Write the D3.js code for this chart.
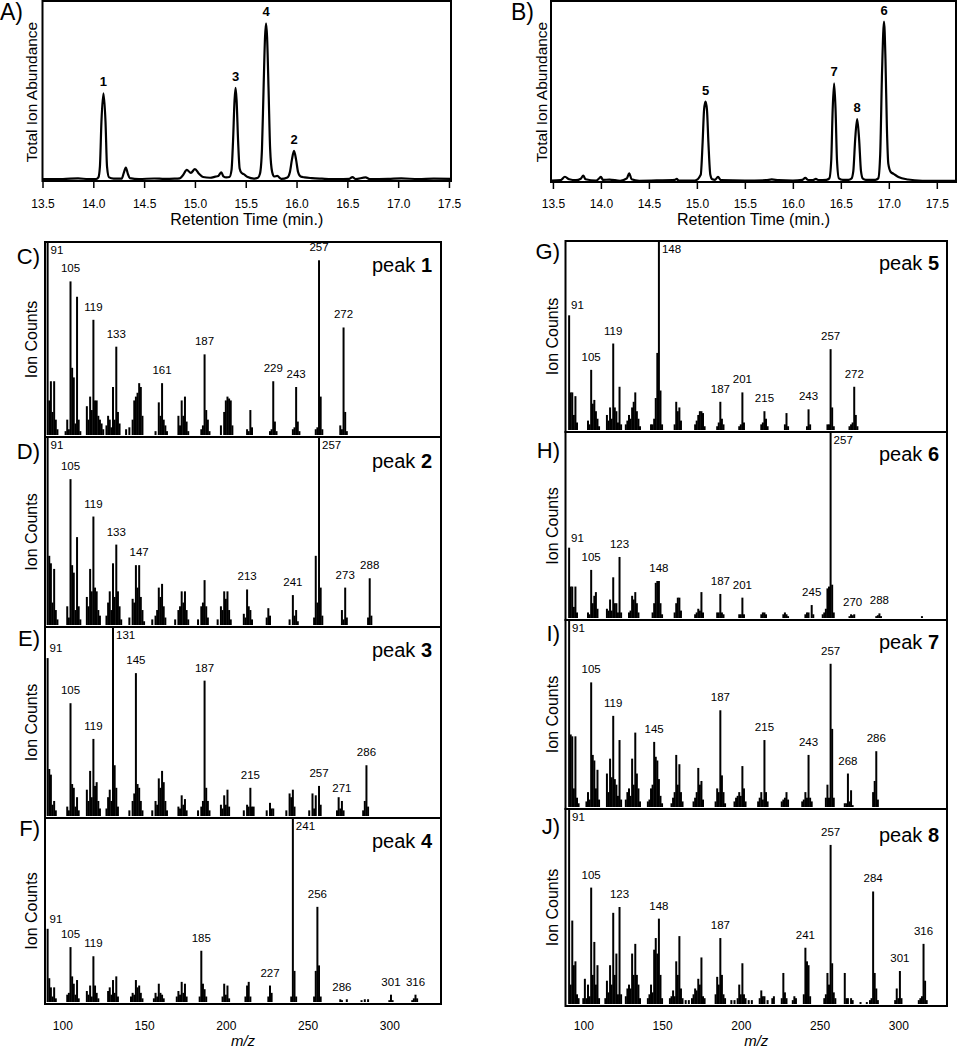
<!DOCTYPE html>
<html><head><meta charset="utf-8">
<script src="https://cdn.jsdelivr.net/npm/d3@7"></script>
<style>
body{margin:0;background:#fff}
svg{display:block}
text{font-family:"Liberation Sans",Arial,Helvetica,sans-serif;fill:#000}
</style>
</head><body>
<svg id="chart" width="960" height="1050"></svg>
<script>
// ---------------- DATA ----------------
const rtTicks = [13.5, 14.0, 14.5, 15.0, 15.5, 16.0, 16.5, 17.0, 17.5];
const mzTicks = [100, 150, 200, 250, 300];

// Total ion chromatogram A (retention time, relative abundance)
const traceA = [[13.50,1.1],[13.70,1.1],[13.85,1.5],[13.95,1.0],[14.03,1.1],[14.05,2.0],[14.065,8],[14.08,33],[14.10,48.7],[14.12,33],[14.135,8],[14.155,2.0],[14.20,1.3],[14.28,1.3],[14.30,4.5],[14.32,7.4],[14.34,4.0],[14.36,1.6],[14.45,1.1],[14.60,1.4],[14.70,1.2],[14.80,1.3],[14.85,1.5],[14.88,3.0],[14.92,6.2],[14.96,4.5],[15.00,6.6],[15.04,4.0],[15.08,2.2],[15.15,1.8],[15.20,2.4],[15.23,2.8],[15.26,4.8],[15.28,2.6],[15.31,2.0],[15.34,2.2],[15.36,6],[15.375,22],[15.39,45],[15.40,51.8],[15.41,45],[15.425,22],[15.44,7],[15.46,4.4],[15.48,3.8],[15.52,2.2],[15.58,1.3],[15.62,1.8],[15.64,4],[15.66,18],[15.675,50],[15.69,80],[15.70,87.6],[15.71,80],[15.725,50],[15.74,18],[15.76,5],[15.78,2.5],[15.81,2.8],[15.85,1.2],[15.91,2.0],[15.935,5],[15.955,12],[15.975,16.8],[15.995,12],[16.015,5],[16.04,2.5],[16.08,2.0],[16.15,1.6],[16.25,1.3],[16.40,1.0],[16.52,1.2],[16.55,2.2],[16.58,1.1],[16.68,2.0],[16.72,1.1],[16.90,1.2],[17.03,1.5],[17.20,1.0],[17.35,1.3],[17.52,1.2]];
const peaksA = [[14.10,'1'],[15.40,'3'],[15.70,'4'],[15.975,'2']];

// Total ion chromatogram B
const traceB = [[13.48,0.8],[13.58,1.0],[13.625,2.9],[13.67,1.5],[13.74,1.0],[13.79,1.8],[13.816,3.5],[13.84,1.5],[13.95,0.8],[13.985,2.2],[14.00,2.9],[14.02,1.2],[14.09,1.3],[14.20,0.7],[14.27,2.0],[14.295,4.8],[14.32,1.5],[14.40,0.7],[14.60,0.9],[14.77,1.2],[14.79,1.7],[14.81,0.8],[14.98,0.8],[15.04,4],[15.06,22],[15.075,40],[15.09,44.4],[15.105,40],[15.12,22],[15.14,4],[15.16,1.5],[15.19,1.2],[15.22,2.9],[15.25,1.0],[15.50,0.8],[15.72,1.0],[15.78,1.4],[15.85,1.0],[16.00,0.8],[16.10,1.2],[16.13,2.3],[16.16,1.1],[16.21,1.1],[16.24,1.7],[16.27,1.0],[16.35,1.2],[16.38,2.0],[16.40,12],[16.415,40],[16.43,54.5],[16.445,40],[16.46,12],[16.48,2.0],[16.52,1.2],[16.58,1.2],[16.61,1.8],[16.63,6],[16.65,24],[16.67,34.8],[16.69,24],[16.71,6],[16.73,1.8],[16.76,1.2],[16.86,1.2],[16.89,2.0],[16.91,15],[16.93,62],[16.95,88.6],[16.965,68],[16.98,30],[16.995,10],[17.02,5.5],[17.05,4.5],[17.10,2.8],[17.20,1.4],[17.35,0.7],[17.50,0.6],[17.70,0.6]];
const peaksB = [[15.09,'5'],[16.43,'7'],[16.67,'8'],[16.95,'6']];

// Mass spectra [m/z, relative ion counts]
const spec1 = [[91,100],[92,18],[93,28],[94,12],[95,28],[96,8],[97,3],[102,2],[103,8],[104,3],[105,80],[106,35],[107,30],[108,6],[109,72],[110,8],[111,2],[115,15],[116,8],[117,20],[118,13],[119,60],[120,18],[121,18],[122,10],[123,8],[124,6],[125,3],[127,5],[128,10],[129,8],[130,4],[131,25],[132,8],[133,46],[134,12],[135,6],[139,3],[141,4],[143,8],[144,18],[145,20],[146,22],[147,27],[148,25],[149,10],[157,2],[159,17],[160,10],[161,27],[162,8],[163,5],[164,2],[171,10],[172,5],[173,18],[174,10],[175,20],[176,7],[177,2],[185,3],[186,5],[187,42],[188,13],[189,8],[190,2],[197,5],[199,12],[200,18],[201,20],[202,19],[203,18],[204,5],[213,3],[214,2],[215,13],[216,4],[227,2],[228,3],[229,28],[230,7],[231,2],[241,3],[242,4],[243,25],[244,7],[245,2],[255,3],[256,4],[257,91],[258,20],[259,3],[270,5],[271,3],[272,56],[273,12],[274,2]];
const spec2 = [[91,100],[92,37],[93,33],[94,12],[95,30],[96,8],[97,3],[103,10],[104,4],[105,78],[106,32],[107,28],[108,8],[109,47],[110,10],[111,3],[115,15],[116,10],[117,30],[118,18],[119,58],[120,20],[121,18],[122,8],[123,5],[127,5],[128,12],[129,18],[130,8],[131,33],[132,15],[133,43],[134,18],[135,10],[136,3],[141,4],[143,14],[144,12],[145,32],[146,20],[147,32],[148,15],[149,8],[150,2],[155,3],[157,5],[158,8],[159,20],[160,15],[161,22],[162,10],[163,4],[169,3],[171,8],[172,10],[173,18],[174,12],[175,18],[176,8],[177,3],[183,3],[185,10],[186,12],[187,24],[188,10],[189,4],[195,3],[197,10],[198,8],[199,18],[200,14],[201,18],[202,8],[203,3],[211,6],[212,4],[213,19],[214,10],[215,8],[216,3],[225,4],[226,9],[227,5],[239,3],[241,16],[242,5],[243,8],[244,2],[254,4],[255,37],[256,12],[257,100],[258,20],[259,5],[271,8],[272,3],[273,20],[274,4],[287,4],[288,25],[289,5]];
const spec3 = [[91,84],[92,25],[93,22],[94,6],[95,8],[96,3],[103,5],[104,3],[105,60],[106,17],[107,15],[108,5],[109,10],[110,3],[115,14],[116,8],[117,24],[118,10],[119,41],[120,16],[121,18],[122,8],[123,4],[127,4],[128,10],[129,14],[130,8],[131,100],[132,27],[133,15],[134,5],[141,3],[143,8],[144,12],[145,76],[146,17],[147,15],[148,8],[149,3],[155,3],[157,8],[158,6],[159,20],[160,15],[161,24],[162,18],[163,8],[164,3],[171,5],[172,4],[173,11],[174,6],[175,9],[176,3],[183,3],[185,5],[186,8],[187,72],[188,15],[189,8],[190,3],[197,6],[198,4],[199,11],[200,6],[201,14],[202,5],[211,3],[213,6],[214,5],[215,15],[216,5],[217,5],[225,3],[227,7],[228,4],[229,4],[237,3],[239,12],[240,10],[241,14],[242,5],[251,3],[253,12],[254,4],[255,11],[257,16],[258,6],[268,3],[269,10],[270,4],[271,8],[272,3],[284,3],[285,8],[286,27],[287,5]];
const spec4 = [[91,40],[92,13],[93,8],[94,3],[95,8],[96,2],[103,4],[104,5],[105,30],[106,14],[107,10],[108,4],[109,12],[110,2],[115,6],[116,4],[117,9],[118,3],[119,25],[120,9],[121,5],[122,2],[128,6],[129,8],[130,4],[131,12],[132,5],[133,14],[134,3],[142,3],[143,5],[144,4],[145,12],[146,8],[147,9],[148,5],[149,2],[156,2],[157,5],[158,3],[159,10],[160,5],[161,4],[162,2],[170,3],[171,6],[172,4],[173,11],[174,5],[175,10],[176,3],[184,3],[185,28],[186,10],[187,7],[188,3],[198,3],[199,10],[200,4],[201,9],[202,2],[212,3],[213,9],[214,11],[215,3],[226,3],[227,9],[228,5],[240,3],[241,100],[242,17],[243,3],[254,3],[255,17],[256,52],[257,20],[258,3],[270,1.5],[271,1],[274,1.5],[283,1],[285,1.5],[287,1.5],[300,1],[301,4],[302,1],[314,1],[315,2],[316,4],[317,2]];
const spec5 = [[91,61],[92,20],[93,20],[94,8],[95,18],[96,4],[103,5],[104,3],[105,32],[106,14],[107,16],[108,10],[109,6],[110,2],[115,8],[116,5],[117,12],[118,6],[119,46],[120,12],[121,10],[122,4],[123,23],[124,3],[127,3],[128,5],[129,8],[130,6],[131,12],[132,15],[133,20],[134,10],[135,6],[136,2],[143,3],[144,3],[145,6],[146,17],[147,41],[148,100],[149,21],[150,3],[158,3],[159,15],[160,10],[161,12],[162,5],[171,3],[172,5],[173,8],[174,10],[175,10],[176,9],[177,2],[185,2],[186,4],[187,15],[188,6],[189,3],[199,2],[200,3],[201,20],[202,4],[213,3],[214,4],[215,10],[216,6],[217,2],[228,3],[229,9],[230,2],[242,2],[243,11],[244,3],[255,3],[256,3],[257,43],[258,12],[259,2],[269,2],[270,3],[271,4],[272,23],[273,8],[274,2]];
const spec6 = [[91,38],[92,17],[93,17],[94,6],[95,17],[96,3],[103,3],[104,2],[105,26],[106,8],[107,12],[108,14],[109,5],[115,5],[116,4],[117,10],[118,4],[119,22],[120,8],[121,8],[122,3],[123,33],[124,3],[129,3],[130,4],[131,12],[132,10],[133,14],[134,8],[135,3],[144,3],[145,8],[146,19],[147,20],[148,20],[149,8],[150,2],[158,3],[159,8],[160,11],[161,11],[162,4],[171,2],[172,3],[173,5],[174,4],[175,14],[176,3],[185,3],[186,3],[187,13],[188,3],[189,2],[199,2],[200,2],[201,11],[202,2],[213,2],[214,3],[215,3],[216,2],[227,2],[228,3],[229,2],[230,1],[241,2],[242,3],[243,3],[245,7],[246,2],[252,2],[253,3],[254,5],[255,16],[256,17],[257,100],[258,18],[259,3],[269,1],[270,2],[271,1.5],[272,2],[286,1],[287,1.5],[288,2.5],[289,1],[315,1]];
const spec7 = [[91,100],[92,39],[93,38],[94,10],[95,38],[96,5],[97,2],[102,3],[103,8],[104,4],[105,67],[106,28],[107,25],[108,10],[109,20],[110,4],[115,18],[116,8],[117,26],[118,16],[119,49],[120,15],[121,12],[122,6],[123,36],[124,4],[127,4],[128,8],[129,10],[130,6],[131,26],[132,12],[133,40],[134,18],[135,10],[136,3],[141,3],[142,4],[143,10],[144,12],[145,35],[146,27],[147,25],[148,15],[149,6],[150,2],[156,2],[157,5],[158,8],[159,28],[160,12],[161,23],[162,8],[163,3],[170,3],[171,5],[172,8],[173,21],[174,12],[175,14],[176,4],[184,3],[185,10],[186,8],[187,52],[188,17],[189,8],[190,2],[196,3],[197,5],[198,6],[199,8],[200,6],[201,22],[202,10],[203,3],[211,3],[212,5],[213,8],[214,4],[215,36],[216,8],[217,3],[226,3],[227,4],[228,5],[229,8],[230,4],[239,3],[240,4],[241,8],[242,5],[243,28],[244,5],[245,3],[254,5],[255,12],[256,5],[257,77],[258,42],[259,5],[266,2],[267,2],[268,18],[269,3],[270,9],[271,1],[284,8],[285,14],[286,30],[287,4]];
const spec8 = [[91,100],[92,10],[93,43],[94,20],[95,22],[96,5],[97,3],[100,3],[101,13],[102,3],[103,10],[104,4],[105,60],[106,15],[107,32],[108,10],[109,20],[110,3],[114,3],[115,12],[116,6],[117,20],[118,10],[119,47],[120,15],[121,26],[122,5],[123,50],[124,5],[127,4],[128,8],[129,10],[130,8],[131,26],[132,15],[133,31],[134,15],[135,10],[136,3],[141,3],[142,5],[143,10],[144,6],[145,28],[146,34],[147,26],[148,44],[149,15],[150,3],[155,3],[156,4],[157,7],[158,4],[159,22],[160,15],[161,35],[162,8],[163,3],[165,2],[167,2],[169,3],[170,5],[171,8],[172,7],[173,13],[174,10],[175,24],[176,4],[177,3],[184,5],[185,14],[186,10],[187,34],[188,15],[189,5],[190,3],[194,2],[196,2],[198,3],[199,10],[200,5],[201,21],[202,5],[203,3],[205,2],[207,2],[212,3],[213,7],[214,4],[215,4],[217,2],[220,3],[221,4],[226,3],[227,16],[228,6],[229,3],[233,2],[234,4],[235,3],[240,5],[241,29],[242,22],[243,20],[244,4],[253,3],[254,5],[255,16],[256,10],[257,82],[258,21],[259,6],[260,3],[266,16],[267,3],[268,3],[270,3],[271,2],[276,1],[280,1],[282,2],[283,3],[284,58],[285,16],[286,8],[287,2],[298,2],[299,8],[300,3],[301,17],[302,3],[313,2],[314,3],[315,4],[316,31],[317,12],[318,2]];

// Labelled ions (m/z, or [anchor m/z, printed text])
const labels1 = [91,105,119,133,161,187,229,243,257,272];
const labels2 = [91,105,119,133,147,213,241,257,273,288];
const labels3 = [91,105,119,131,145,187,215,257,271,286];
const labels4 = [91,105,119,185,227,241,256,[271,'286'],301,316];
const labels5 = [91,105,119,148,187,201,215,243,257,272];
const labels6 = [91,105,123,148,187,201,245,257,[271,'270'],288];
const labels7 = [91,105,119,145,187,215,243,257,268,286];
const labels8 = [91,105,123,148,187,241,257,284,301,316];

// ---------------- LAYOUT ----------------
const svg = d3.select('#chart');
const FONT = '"Liberation Sans",Arial,Helvetica,sans-serif';

function chromatogram(cfg, trace, peaks) {
  const x = d3.scaleLinear().domain(cfg.domain).range([cfg.left, cfg.right]);
  const y = d3.scaleLinear().domain([0, 100]).range([cfg.bottom, cfg.top]);
  const g = svg.append('g');
  g.append('path').datum(trace)
    .attr('d', d3.line().x(d => x(d[0])).y(d => y(d[1])).curve(d3.curveMonotoneX))
    .attr('fill', 'none').attr('stroke', '#000').attr('stroke-width', 2.2).attr('stroke-linejoin', 'round');
  peaks.forEach(([t, lab]) => {
    const v = d3.max(trace.filter(d => Math.abs(d[0] - t) < 0.03), d => d[1]);
    g.append('text').attr('x', x(t)).attr('y', y(v) - 7).attr('text-anchor', 'middle')
      .attr('font-weight', 'bold').attr('font-size', 13).text(lab);
  });
  g.append('rect').attr('x', cfg.left).attr('y', cfg.top).attr('width', cfg.right - cfg.left)
    .attr('height', cfg.bottom - cfg.top).attr('fill', 'none').attr('stroke', '#000').attr('stroke-width', 2);
  const ax = g.append('g').attr('transform', `translate(0,${cfg.bottom})`)
    .call(d3.axisBottom(x).tickValues(rtTicks).tickFormat(d3.format('.1f')).tickSize(7));
  ax.attr('font-family', FONT);
  ax.select('.domain').remove();
  ax.selectAll('line').attr('stroke-width', 1.5);
  ax.selectAll('text').attr('dy', null).attr('y', 208 - cfg.bottom).attr('font-size', 12).attr('fill', '#000');
  g.append('text').attr('x', (cfg.left + cfg.right) / 2).attr('y', 225).attr('text-anchor', 'middle')
    .attr('font-size', 16).text('Retention Time (min.)');
  g.append('text').attr('transform', `translate(${cfg.titleX},92) rotate(-90)`).attr('text-anchor', 'middle')
    .attr('font-size', 15.5).text('Total Ion Abundance');
  g.append('text').attr('x', cfg.letterX).attr('y', 20).attr('font-size', 23).text(cfg.letter);
}

chromatogram({domain: [13.5, 17.52], left: 42.5, right: 451, top: 1, bottom: 181, titleX: 36.5, letterX: 0, letter: 'A)'}, traceA, peaksA);
chromatogram({domain: [13.48, 17.70], left: 551, right: 956, top: 1, bottom: 182, titleX: 546.5, letterX: 511, letter: 'B)'}, traceB, peaksB);

const columns = [
  {left: 45, right: 441, domain: [89.4, 331.6], letterX: 40, peakX: 432, ionX: 36.7},
  {left: 565.5, right: 947, domain: [88.7, 330.9], letterX: 560, peakX: 939, ionX: 558}
];
const panels = [
  {data: spec1, labels: labels1, peak: '1', letter: 'C)', col: 0, top: 242, bottom: 437, letterY: 264, peakY: 272},
  {data: spec2, labels: labels2, peak: '2', letter: 'D)', col: 0, top: 437, bottom: 627, letterY: 459, peakY: 468},
  {data: spec3, labels: labels3, peak: '3', letter: 'E)', col: 0, top: 627, bottom: 818, letterY: 646, peakY: 657},
  {data: spec4, labels: labels4, peak: '4', letter: 'F)', col: 0, top: 818, bottom: 1004, letterY: 836, peakY: 848, axis: true},
  {data: spec5, labels: labels5, peak: '5', letter: 'G)', col: 1, top: 241, bottom: 432, letterY: 259, peakY: 270},
  {data: spec6, labels: labels6, peak: '6', letter: 'H)', col: 1, top: 432, bottom: 620, letterY: 458, peakY: 461},
  {data: spec7, labels: labels7, peak: '7', letter: 'I)', col: 1, top: 620, bottom: 809, letterY: 641, peakY: 649},
  {data: spec8, labels: labels8, peak: '8', letter: 'J)', col: 1, top: 809, bottom: 1006, letterY: 834, peakY: 842, axis: true}
];

panels.forEach(p => {
  const col = columns[p.col];
  const x = d3.scaleLinear().domain(col.domain).range([col.left, col.right]);
  const y = d3.scaleLinear().domain([0, 100]).range([p.bottom - 2, p.top + 1]);
  const g = svg.append('g');
  g.selectAll('line.bar').data(p.data).join('line').attr('class', 'bar')
    .attr('x1', d => x(d[0])).attr('x2', d => x(d[0]))
    .attr('y1', y(0)).attr('y2', d => y(d[1]))
    .attr('stroke', '#000').attr('stroke-width', 2);
  p.labels.forEach(l => {
    const [mz, txt] = Array.isArray(l) ? l : [l, String(l)];
    const v = d3.max(p.data.filter(d => Math.abs(d[0] - mz) < 0.6), d => d[1]) || 0;
    const bx = x(mz);
    const t = g.append('text').attr('font-size', 11.5).text(txt);
    if (v >= 97) t.attr('x', bx + 3).attr('y', p.top + 12).attr('text-anchor', 'start');
    else if (bx - 9 < col.left + 2) t.attr('x', bx + 2).attr('y', y(v) - 6).attr('text-anchor', 'start');
    else t.attr('x', bx).attr('y', y(v) - 9).attr('text-anchor', 'middle');
  });
  g.append('rect').attr('x', col.left).attr('y', p.top).attr('width', col.right - col.left)
    .attr('height', p.bottom - p.top).attr('fill', 'none').attr('stroke', '#000').attr('stroke-width', 2);
  g.append('text').attr('x', col.letterX).attr('y', p.letterY).attr('text-anchor', 'end')
    .attr('font-size', 22).text(p.letter);
  const pk = g.append('text').attr('x', col.peakX).attr('y', p.peakY).attr('text-anchor', 'end').attr('font-size', 20);
  pk.append('tspan').text('peak ');
  pk.append('tspan').attr('font-weight', 'bold').text(p.peak);
  g.append('text').attr('transform', `translate(${col.ionX},${(p.top + p.bottom) / 2}) rotate(-90)`)
    .attr('text-anchor', 'middle').attr('font-size', 16).text('Ion Counts');
  if (p.axis) {
    const ax = g.append('g').attr('transform', `translate(0,${p.bottom})`)
      .call(d3.axisBottom(x).tickValues(mzTicks).tickSize(0));
    ax.attr('font-family', FONT);
    ax.select('.domain').remove();
    ax.selectAll('text').attr('dy', null).attr('y', 1030 - p.bottom).attr('font-size', 12).attr('fill', '#000');
    g.append('text').attr('x', (col.left + col.right) / 2).attr('y', 1046).attr('text-anchor', 'middle')
      .attr('font-size', 15).attr('font-style', 'italic').text('m/z');
  }
});
</script>
</body></html>
